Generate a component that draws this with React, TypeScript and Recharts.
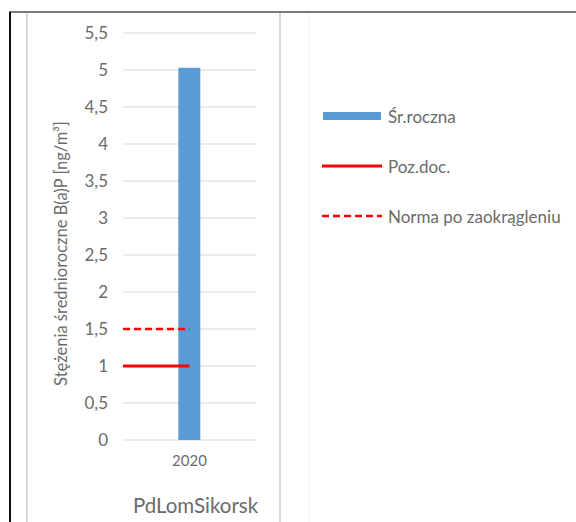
import React from "react";
import { ComposedChart, Bar, Line, XAxis, YAxis, CartesianGrid, Legend } from "recharts";

const categories = ["", "2020", " "];
const sredniaRoczna: (number | null)[] = [null, 5.03, null];
const pozDocX = [0, 1.5];
const pozDocValues = [1, 1];
const normaX = [0, 1.5];
const normaValues = [1.5, 1.5];
const yTicks = [0, 0.5, 1, 1.5, 2, 2.5, 3, 3.5, 4, 4.5, 5, 5.5];
const boundaryTicks = [0, 1, 2, 3];
const stationName = "PdLomSikorsk";
const yLabel = "Stężenia średnioroczne B(a)P [ng/m³]";
const seriesNames = ["Śr.roczna", "Poz.doc.", "Norma po zaokrągleniu"];

const barData = categories.map((c, i) => ({ year: c, value: sredniaRoczna[i] }));
const pozDocData = pozDocX.map((x, i) => ({ x, value: pozDocValues[i] }));
const normaData = normaX.map((x, i) => ({ x, value: normaValues[i] }));

const FONT = "Lato, 'Liberation Sans', sans-serif";
const TEXT = "#6b6b6b";
const BLUE = "#5b9bd5";
const RED = "#ff0000";

const renderLegend = (props: any) => {
  const payload = (props.payload || []).slice();
  payload.sort((a: any, b: any) => seriesNames.indexOf(a.value) - seriesNames.indexOf(b.value));
  return (
    <div style={{ fontFamily: FONT, fontSize: 17, color: TEXT }}>
      {payload.map((p: any, i: number) => {
        const name = p.value;
        let symbol: React.ReactNode;
        if (name === seriesNames[0]) {
          symbol = <rect x={1} y={1} width={58} height={8} fill={BLUE} />;
        } else if (name === seriesNames[1]) {
          symbol = <line x1={0} x2={60} y1={5} y2={5} stroke={RED} strokeWidth={3} />;
        } else {
          symbol = <line x1={0} x2={60} y1={5} y2={5} stroke={RED} strokeWidth={2.5} strokeDasharray="7 4" />;
        }
        return (
          <div key={i} style={{ display: "flex", alignItems: "center", height: 50 }}>
            <svg width={60} height={10} style={{ display: "block" }}>{symbol}</svg>
            <span style={{ marginLeft: 6, whiteSpace: "nowrap" }}>{name}</span>
          </div>
        );
      })}
    </div>
  );
};

const YLabelContent = (props: any) => {
  const vb = props.viewBox || { x: 0, y: 0, width: 0, height: 0 };
  const cx = vb.x + 61;
  const cy = vb.y + vb.height / 2 + 17;
  return (
    <text
      x={cx}
      y={cy}
      transform={`rotate(-90, ${cx}, ${cy})`}
      textAnchor="middle"
      dominantBaseline="central"
      fontFamily={FONT}
      fontSize={16.5}
      fill={TEXT}
    >
      {yLabel}
    </text>
  );
};

const XLabelContent = (props: any) => {
  const vb = props.viewBox || { x: 0, y: 0, width: 0, height: 0 };
  const cx = vb.x + vb.width / 2 + 6;
  const cy = vb.y + 65;
  return (
    <text x={cx} y={cy} textAnchor="middle" dominantBaseline="central" fontFamily={FONT} fontSize={20.5} fill={TEXT}>
      {stationName}
    </text>
  );
};

export default function App() {
  return (
    <div style={{ position: "absolute", left: 0, top: 0, width: 576, height: 522, background: "#fff", overflow: "hidden" }}>
      <div style={{ position: "absolute", left: 9, top: 11, width: 567, height: 2, background: "#7a7a7a" }} />
      <div style={{ position: "absolute", left: 9, top: 12, width: 2, height: 510, background: "#111" }} />
      <div style={{ position: "absolute", left: 26, top: 13, width: 2, height: 509, background: "#d9d9d9" }} />
      <div style={{ position: "absolute", left: 279, top: 13, width: 2, height: 509, background: "#d9d9d9" }} />
      <div style={{ position: "absolute", left: 308, top: 13, width: 1, height: 509, background: "#f3f3f3" }} />
      <div style={{ position: "absolute", left: 0, top: 0 }}>
        <ComposedChart
          width={576}
          height={522}
          data={barData}
          margin={{ top: 33, right: 320, bottom: 12, left: 0 }}
        >
          <CartesianGrid vertical={false} stroke="#d9d9d9" strokeWidth={1} />
          <XAxis
            xAxisId="num"
            type="number"
            dataKey="x"
            domain={[0, 3]}
            ticks={boundaryTicks}
            allowDataOverflow
            height={0}
            tickFormatter={() => ""}
            axisLine={{ stroke: "#d9d9d9" }}
            tickLine={{ stroke: "#d9d9d9" }}
            tickSize={5}
          />
          <XAxis
            xAxisId="cat"
            dataKey="year"
            height={70}
            axisLine={false}
            tickLine={false}
            tickSize={0}
            tickMargin={15}
            interval={0}
            tick={{ fontFamily: FONT, fontSize: 15, fill: TEXT }}
            label={{ content: XLabelContent }}
          />
          <YAxis
            width={123}
            domain={[0, 5.5]}
            ticks={yTicks}
            axisLine={false}
            tickLine={false}
            tickSize={0}
            tickMargin={15}
            tickFormatter={(v: number) => String(v).replace(".", ",")}
            tick={{ fontFamily: FONT, fontSize: 17, fill: TEXT }}
            label={{ content: YLabelContent }}
          />
          <Bar
            xAxisId="cat"
            dataKey="value"
            name={seriesNames[0]}
            fill={BLUE}
            barSize={22}
            isAnimationActive={false}
          />
          <Line
            xAxisId="num"
            data={pozDocData}
            dataKey="value"
            name={seriesNames[1]}
            stroke={RED}
            strokeWidth={3}
            dot={false}
            activeDot={false}
            isAnimationActive={false}
          />
          <Line
            xAxisId="num"
            data={normaData}
            dataKey="value"
            name={seriesNames[2]}
            stroke={RED}
            strokeWidth={2.5}
            strokeDasharray="7 4"
            dot={false}
            activeDot={false}
            isAnimationActive={false}
          />
          <Legend
            layout="vertical"
            align="center"
            verticalAlign="middle"
            content={renderLegend}
            wrapperStyle={{ position: "absolute", left: 322, top: 91, width: 254, height: 150 }}
          />
        </ComposedChart>
      </div>
    </div>
  );
}
